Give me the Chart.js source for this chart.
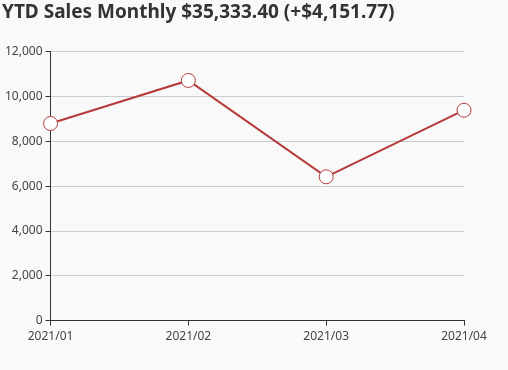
<!DOCTYPE html>
<html>
<head>
<meta charset="utf-8">
<script src="https://cdn.jsdelivr.net/npm/chart.js@4/dist/chart.umd.min.js"></script>
<style>
  html, body { margin: 0; padding: 0; background: #f9f9f9; }
  #wrap { width: 508px; height: 370px; }
</style>
</head>
<body>
<div id="wrap"><canvas id="salesChart"></canvas></div>
<script>
var months = ['2021/01', '2021/02', '2021/03', '2021/04'];
var sales = [8800, 10720, 6420, 9393.4];
var yTicks = [0, 2000, 4000, 6000, 8000, 10000, 12000];
var titleText = 'YTD Sales Monthly $35,333.40 (+$4,151.77)';

var ctx = document.getElementById('salesChart').getContext('2d');
var salesChart = new Chart(ctx, {
    type: 'line',
    data: {
        labels: months,
        datasets: [{
            label: 'Sales',
            data: sales,
            borderColor: '#b53a3a',
            borderWidth: 2,
            pointRadius: 7,
            pointHoverRadius: 7,
            pointBackgroundColor: '#ffffff',
            pointBorderColor: '#b53a3a',
            pointBorderWidth: 1,
            tension: 0
        }]
    },
    options: {
        responsive: true,
        maintainAspectRatio: false,
        animation: false,
        layout: { padding: { left: 2, right: 44, top: 0, bottom: 22 } },
        plugins: {
            legend: { display: false },
            tooltip: { enabled: false },
            title: {
                display: true,
                text: titleText,
                align: 'start',
                color: '#333',
                font: { family: 'Noto Sans', size: 19, weight: 'bold' },
                padding: { top: 1, bottom: 28 }
            }
        },
        scales: {
            x: {
                offset: false,
                border: { color: '#333', width: 1 },
                grid: { drawOnChartArea: false, tickColor: '#333', tickLength: 5 },
                ticks: { color: '#444', font: { family: 'Noto Sans', size: 12 }, padding: 4, maxRotation: 0 }
            },
            y: {
                min: 0,
                max: 12000,
                border: { color: '#333', width: 1 },
                grid: { color: '#cccccc', tickColor: '#333', tickLength: 5 },
                afterBuildTicks: function (axis) {
                    axis.ticks = yTicks.map(function (v) { return { value: v }; });
                },
                ticks: {
                    color: '#444',
                    font: { family: 'Noto Sans', size: 12 },
                    padding: 3,
                    callback: function (v) { return v.toLocaleString('en-US'); }
                }
            }
        }
    }
});
</script>
</body>
</html>
